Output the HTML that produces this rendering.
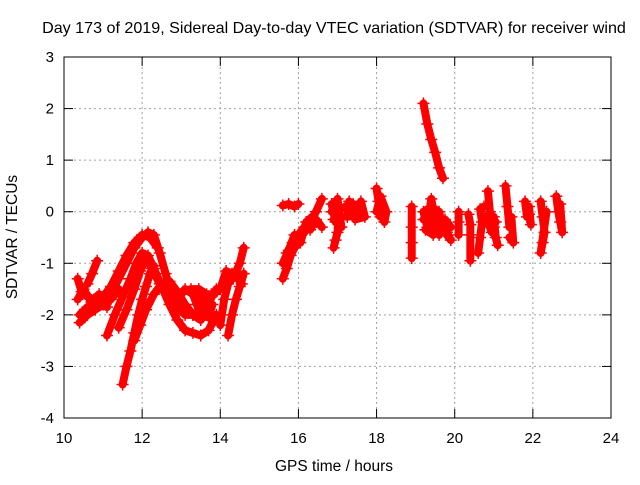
<!DOCTYPE html>
<html><head><meta charset="utf-8"><style>
body{margin:0;background:#fff}
svg text{font-family:"Liberation Sans",sans-serif;font-size:15px;fill:#000}
</style></head><body>
<svg id="c" width="640" height="480">
<text x="334" y="33" text-anchor="middle" style="font-size:16.1px">Day 173 of 2019, Sidereal Day-to-day VTEC variation (SDTVAR) for receiver wind</text>
<text x="334" y="471" text-anchor="middle" style="font-size:15.5px">GPS time / hours</text>
<text transform="translate(17,237) rotate(-90)" text-anchor="middle" style="font-size:15.5px">SDTVAR / TECUs</text>
<g id="grid"></g><g id="marks"></g>
<rect x="64" y="57" width="547" height="361" fill="none" stroke="#000"/>
</svg>
<script>
const xTicks=[10,12,14,16,18,20,22,24];
const yTicks=[-4,-3,-2,-1,0,1,2,3];
const tracks=[
[[10.35,-1.3],[10.45,-1.55],[10.6,-1.65],[10.8,-1.7],[11.0,-1.8],[11.2,-1.7],[11.4,-1.5]],
[[10.35,-1.7],[10.5,-1.5],[10.7,-1.75],[10.9,-1.6],[11.1,-1.85]],
[[10.6,-1.4],[10.72,-1.2],[10.85,-0.95]],
[[10.4,-2.15],[10.6,-2.0],[10.8,-1.9],[11.0,-1.8],[11.2,-1.6],[11.4,-1.3],[11.6,-1.0],[11.8,-0.7],[12.0,-0.5],[12.15,-0.4],[12.3,-0.45],[12.45,-0.8],[12.6,-1.2],[12.75,-1.6],[12.9,-1.85],[13.1,-2.0],[13.3,-2.0],[13.5,-1.9],[13.7,-1.7],[13.9,-1.55]],
[[10.4,-2.0],[10.6,-1.85],[10.8,-1.75],[11.0,-1.65],[11.2,-1.45],[11.4,-1.15],[11.6,-0.85],[11.8,-0.6],[12.0,-0.45],[12.2,-0.5],[12.4,-0.7]],
[[11.1,-2.4],[11.3,-2.0],[11.5,-1.65],[11.7,-1.3],[11.85,-1.0],[12.0,-0.8],[12.15,-0.85],[12.3,-1.1],[12.5,-1.45],[12.7,-1.8],[12.9,-2.1],[13.1,-2.3],[13.3,-2.35],[13.5,-2.4],[13.7,-2.3],[13.9,-2.0]],
[[11.4,-2.25],[11.6,-1.9],[11.8,-1.5],[11.95,-1.15],[12.1,-0.9],[12.25,-1.1],[12.45,-1.4],[12.65,-1.6],[12.85,-1.6],[13.05,-1.55],[13.25,-1.5],[13.45,-1.5],[13.65,-1.6],[13.85,-1.6]],
[[11.5,-3.35],[11.6,-3.0],[11.7,-2.7],[11.8,-2.35],[11.9,-2.0],[12.0,-1.7],[12.1,-1.45],[12.2,-1.2],[12.3,-1.05]],
[[11.8,-2.5],[11.95,-2.2],[12.1,-1.9],[12.3,-1.6],[12.5,-1.4],[12.7,-1.35],[12.9,-1.55],[13.1,-1.8],[13.3,-2.0],[13.5,-2.1],[13.7,-1.9]],
[[12.9,-1.7],[13.1,-1.5],[13.3,-1.6],[13.5,-1.7],[13.7,-1.75],[13.9,-1.5]],
[[13.3,-1.6],[13.4,-1.8],[13.5,-2.0],[13.6,-1.9],[13.7,-2.05],[13.8,-1.8]],
[[14.0,-2.2],[14.1,-1.7],[14.2,-1.4],[14.35,-1.25],[14.5,-1.0],[14.6,-0.7]],
[[14.2,-2.4],[14.3,-2.0],[14.4,-1.7],[14.5,-1.45],[14.6,-1.2]],
[[14.0,-1.5],[14.15,-1.15],[14.3,-1.2],[14.45,-1.3],[14.55,-1.4]],
[[15.6,0.12],[15.75,0.15],[15.9,0.1],[16.0,0.15]],
[[15.6,-1.3],[15.7,-1.1],[15.8,-0.85],[15.9,-0.7],[16.0,-0.55],[16.15,-0.4],[16.3,-0.2],[16.45,0.0],[16.6,0.25]],
[[15.7,-0.8],[15.85,-0.6],[16.0,-0.45],[16.15,-0.3],[16.3,-0.35],[16.45,-0.15],[16.6,-0.3]],
[[15.6,-1.0],[15.75,-0.75],[15.9,-0.45],[16.05,-0.6],[16.2,-0.2],[16.35,-0.1]],
[[16.85,0.15],[16.95,-0.2],[17.05,0.1],[17.0,-0.4],[16.95,-0.55],[17.1,-0.1],[16.9,-0.7]],
[[16.85,0.0],[17.0,0.25],[17.1,-0.3],[16.9,-0.15]],
[[17.2,0.1],[17.3,-0.05],[17.4,0.15],[17.5,0.0],[17.6,0.2],[17.7,-0.1],[17.45,-0.15],[17.3,0.2],[17.25,-0.1]],
[[18.0,0.45],[18.05,0.2],[18.1,-0.1],[18.15,0.1],[18.2,-0.2],[18.25,0.0],[18.1,0.3],[18.0,0.0]],
[[18.9,0.1],[18.9,-0.3],[18.9,-0.6],[18.9,-0.9]],
[[19.2,0.0],[19.3,-0.3],[19.4,0.25],[19.5,-0.2],[19.6,0.0],[19.7,-0.35],[19.8,-0.4],[19.9,-0.55],[19.6,-0.25],[19.3,0.05],[19.45,-0.45],[19.25,-0.35]],
[[19.2,-0.15],[19.35,-0.1],[19.5,0.05],[19.6,-0.45],[19.75,-0.15],[19.9,-0.3],[19.55,-0.35],[19.4,0.0]],
[[19.2,2.1],[19.3,1.7],[19.4,1.4],[19.5,1.15],[19.6,0.85],[19.7,0.65]],
[[20.1,0.0],[20.1,-0.2],[20.1,-0.45]],
[[20.35,-0.05],[20.4,-0.25],[20.4,-0.45],[20.4,-0.95]],
[[20.6,-0.8],[20.65,-0.5],[20.7,-0.2],[20.65,0.05],[20.75,0.1]],
[[20.85,0.4],[20.9,0.0],[21.0,-0.3],[21.0,-0.1],[21.05,-0.5],[21.1,-0.65]],
[[20.8,-0.1],[20.95,-0.4],[20.85,-0.2],[21.05,-0.2]],
[[21.3,0.5],[21.35,0.1],[21.4,-0.3],[21.45,-0.1],[21.5,-0.6],[21.4,-0.5]],
[[21.8,0.2],[21.85,-0.1],[21.9,0.1],[21.95,-0.25],[21.9,-0.05]],
[[22.2,0.2],[22.25,-0.1],[22.3,-0.4],[22.25,-0.6],[22.2,-0.8],[22.35,0.0]],
[[22.6,0.3],[22.65,0.0],[22.7,-0.2],[22.75,-0.4],[22.7,0.15]]
];
const ns="http://www.w3.org/2000/svg";
const X=t=>64+(t-10)*547/14, Y=v=>418-(v+4)*361/7;
const grid=document.getElementById('grid'), marks=document.getElementById('marks');
function mk(tag,attrs,parent){const e=document.createElementNS(ns,tag);for(const k in attrs)e.setAttribute(k,attrs[k]);parent.appendChild(e);return e;}
xTicks.forEach(t=>{
 const x=X(t);
 if(t>10&&t<24){const g=mk('line',{x1:x,x2:x,y1:57,y2:418,stroke:'#a0a0a0','stroke-dasharray':'2,3'},grid);
 
 }
 mk('line',{x1:x,x2:x,y1:418,y2:409,stroke:'#000'},grid);
 mk('line',{x1:x,x2:x,y1:57,y2:66,stroke:'#000'},grid);
 const l=mk('text',{x:x,y:443,'text-anchor':'middle'},grid);l.textContent=t;
 
 
});
yTicks.forEach(v=>{
 const y=Y(v);
 if(v>-4&&v<3){const g=mk('line',{x1:64,x2:611,y1:y,y2:y,stroke:'#a0a0a0','stroke-dasharray':'2,3'},grid);
 
 }
 mk('line',{x1:64,x2:73,y1:y,y2:y,stroke:'#000'},grid);
 mk('line',{x1:611,x2:602,y1:y,y2:y,stroke:'#000'},grid);
 const l=mk('text',{x:54,y:y+5,'text-anchor':'end'},grid);l.textContent=v;
 
 
});
tracks.forEach(tr=>{
 const pts=tr.map(p=>X(p[0])+','+Y(p[1])).join(' ');
 const pl=mk('polyline',{points:pts,fill:'none',stroke:'#f00','stroke-width':8,'stroke-linejoin':'round','stroke-linecap':'round'},marks);
 
 
 tr.forEach(p=>{
  const x=X(p[0]),y=Y(p[1]);
  const m=mk('path',{d:`M${x-6},${y}H${x+6}M${x},${y-6}V${y+6}`,stroke:'#f00','stroke-width':1.5},marks);
  
  
 });
});
</script>
</body></html>
